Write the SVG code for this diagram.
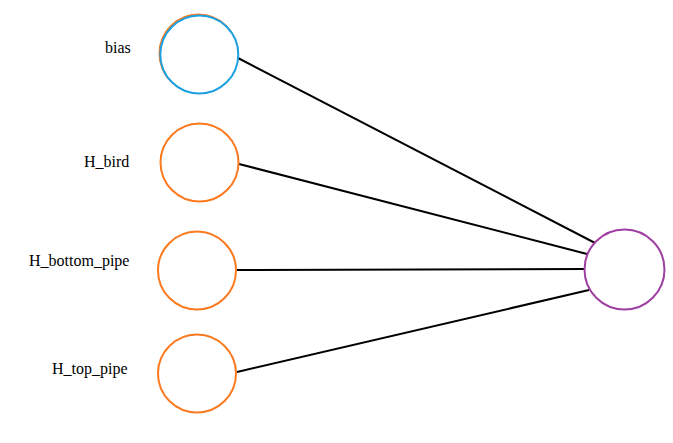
<svg xmlns="http://www.w3.org/2000/svg" width="673" height="443" viewBox="0 0 673 443">
<style>
.n{fill:#fff;stroke-width:2}
.o{stroke:#fb7a1f}
.b{stroke:#1ba1e2}
.p{stroke:#a03fa3}
.l{font-family:"Liberation Serif",serif;font-size:16px;fill:#000}
.c line{stroke:#000;stroke-width:2}
</style>
<rect width="673" height="443" fill="#fff"/>
<g id="connectors" class="c">
<line x1="238" y1="58" x2="597" y2="244"/>
<line x1="239" y1="164" x2="587" y2="254"/>
<line x1="237" y1="270" x2="585" y2="269"/>
<line x1="237" y1="372" x2="589" y2="290"/>
</g>
<g id="bias">
<circle class="n o" cx="198.5" cy="53.5" r="39"/>
<circle class="n b" cx="199.3" cy="54.5" r="39"/>
<text class="l" x="105" y="53">bias</text>
</g>
<g id="H_bird">
<circle class="n o" cx="199.5" cy="162.5" r="39"/>
<text class="l" x="84" y="167">H_bird</text>
</g>
<g id="H_bottom_pipe">
<circle class="n o" cx="197" cy="270.5" r="39"/>
<text class="l" x="29" y="266">H_bottom_pipe</text>
</g>
<g id="H_top_pipe">
<circle class="n o" cx="197" cy="373.5" r="39"/>
<text class="l" x="52" y="374">H_top_pipe</text>
</g>
<g id="output">
<circle class="n p" cx="624.5" cy="269.5" r="40"/>
</g>
</svg>
